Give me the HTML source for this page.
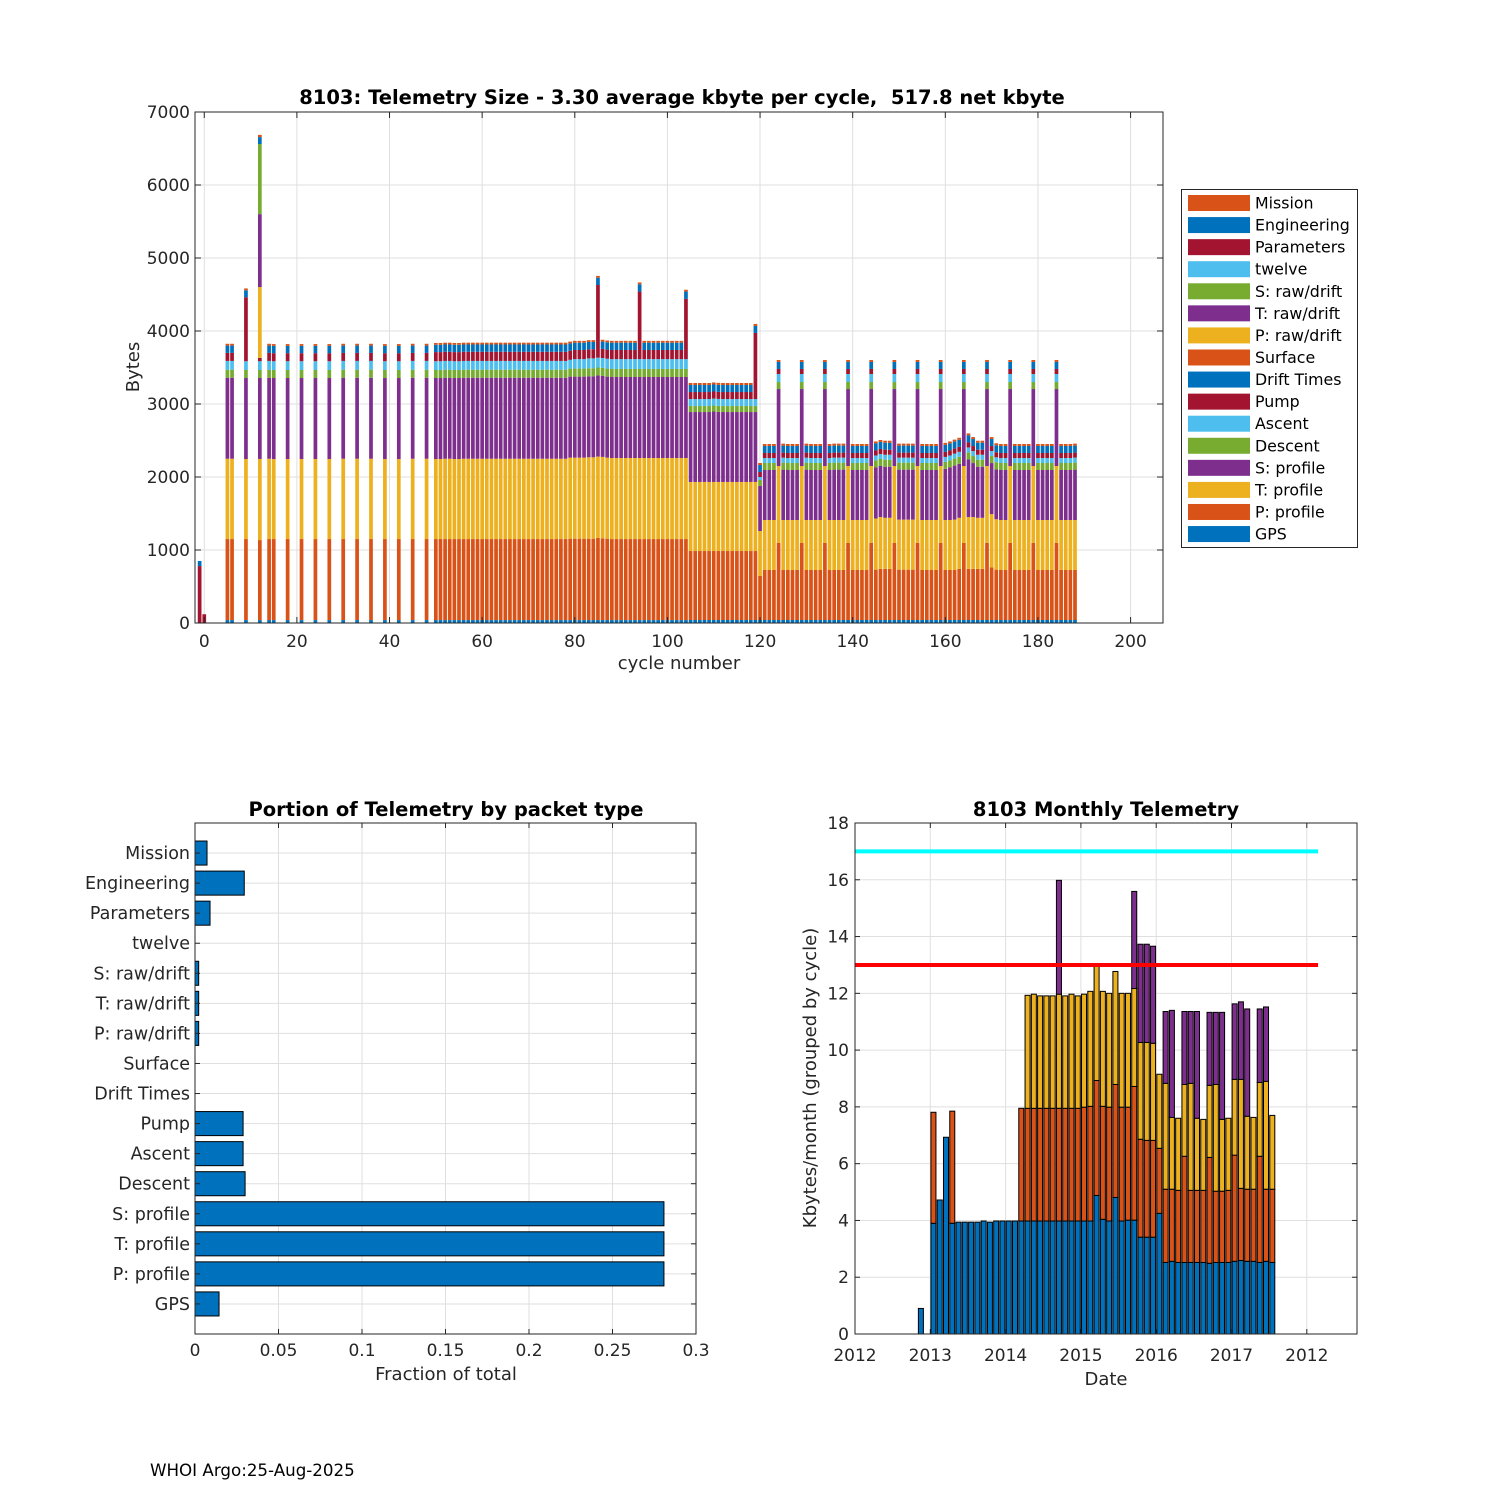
<!DOCTYPE html>
<html><head><meta charset="utf-8"><style>
html,body{margin:0;padding:0;background:#fff;}
svg{display:block;font-family:"DejaVu Sans","Liberation Sans",sans-serif;}
</style></head>
<body>
<svg id="fig" width="1500" height="1500" viewBox="0 0 1500 1500" xmlns="http://www.w3.org/2000/svg">
<rect x="0" y="0" width="1500" height="1500" fill="#fff"/>
<g id="top"></g>
<g id="bl"></g>
<g id="br"></g>
<text x="150" y="1476" font-size="16.7" fill="#000">WHOI Argo:25-Aug-2025</text>
</svg>
<script>
// ---------------- TOP CHART DATA ----------------
const cycles = [-1,0,5,6,9,12,14,15,18,21,24,27,30,33,36,39,42,45,48,
50,51,52,53,54,55,56,57,58,59,60,61,62,63,64,65,66,67,68,69,70,71,72,73,74,75,76,77,78,79,80,81,82,83,84,85,86,87,88,89,90,91,92,93,94,95,96,97,98,99,100,101,102,103,104,
105,106,107,108,109,110,111,112,113,114,115,116,117,118,119,
120,
121,122,123,124,125,126,127,128,129,130,131,132,133,134,135,136,137,138,139,140,141,142,143,144,145,146,147,148,149,150,151,152,153,154,155,156,157,158,159,160,161,162,163,164,165,166,167,168,169,170,171,172,173,174,175,176,177,178,179,180,181,182,183,184,185,186,187,188];
const gps = [0,0,
40,40,40,40,40,40,40,40,40,40,40,40,40,40,40,40,40,
40,40,40,40,40,40,40,40,40,40,40,40,40,40,40,40,40,40,40,40,40,40,40,40,40,40,40,40,40,40,40,40,40,40,40,40,40,40,40,40,40,40,40,40,40,40,40,40,40,40,40,40,40,40,40,
41,41,41,41,41,41,41,41,41,41,41,41,41,41,41,
41,
41,41,41,41,41,41,41,41,41,41,41,41,41,41,41,41,41,41,41,41,41,41,41,41,41,41,41,41,41,41,41,41,41,41,41,41,41,41,41,41,41,41,41,41,41,41,41,41,41,41,41,41,41,41,41,41,41,41,41,41,41,41,41,41,41,41,41,41];
const pProfile = [0,0,
1110,1110,1110,1096,1110,1110,1110,1110,1110,1110,1110,1110,1110,1110,1110,1110,1110,
1110,1110,1110,1110,1110,1110,1110,1110,1110,1110,1110,
1110,1110,1110,1110,1110,1110,1110,1110,1110,1110,1110,
1110,1110,1110,1110,1110,1110,1110,1115,1115,1115,1115,
1115,1115,1125,1120,1115,1110,1110,1110,1110,1110,1110,
1110,1110,1110,1110,1110,1110,1110,1110,1110,1110,1110,
945,945,945,945,945,945,945,945,945,945,945,945,945,945,945,
603,
685,685,685,
1055,685,685,685,685,
1055,685,685,685,685,
1055,685,685,685,685,
1055,685,685,685,685,
1055,690,700,700,700,
1055,690,690,690,690,
1055,685,685,685,685,
1055,685,685,685,700,
1055,700,700,700,700,
1055,720,690,685,685,
1055,685,685,685,685,
1055,685,685,685,685,
1055,685,685,685,685];
const tProfile = [0,0,
1100,1100,1096,1111,1100,1096,1096,1096,1096,1096,1100,1100,1100,1096,1096,1100,1100,
1096,1096,1100,1100,1096,1096,1100,1100,1100,1100,1100,
1100,1100,1100,1100,1100,1100,1100,1100,1100,1100,1100,
1100,1100,1100,1100,1100,1100,1100,1110,1110,1110,1110,
1115,1115,1115,1115,1110,1110,1110,1110,1110,1110,1110,
1110,1110,1110,1110,1110,1110,1110,1110,1110,1110,1110,
946,946,946,946,946,946,946,946,946,946,946,946,946,946,946,
616,
685,685,685,
1054,685,685,685,685,
1054,685,685,685,685,
1054,685,685,685,685,
1054,685,685,685,685,
1054,700,710,700,700,
1054,685,685,685,685,
1054,685,685,685,685,
1054,685,685,690,700,
1054,710,710,700,700,
1054,730,690,685,685,
1054,685,685,685,685,
1054,685,685,685,685,
1054,685,685,685,685];
const sProfile = [0,0,
1110,1110,1110,1109,1110,1110,1110,1110,1110,1110,1110,1110,1110,1110,1110,1110,1110,
1110,1110,1110,1110,1110,1110,1110,1110,1110,1110,1110,
1110,1110,1110,1110,1110,1110,1110,1110,1110,1110,1110,
1110,1110,1110,1110,1110,1110,1110,1110,1110,1110,1110,
1110,1110,1110,1110,1110,1110,1110,1110,1110,1110,1110,
1110,1110,1110,1110,1110,1110,1110,1110,1110,1110,1110,
958,958,958,958,958,965,960,958,958,958,958,958,958,958,958,
617,
685,685,685,
1055,690,685,685,685,
1055,690,685,685,685,
1055,685,690,690,690,
1055,685,685,685,685,
1055,700,700,700,700,
1055,685,685,685,685,
1055,685,685,685,685,
1055,700,720,740,740,
1055,790,740,700,700,
1055,700,685,685,685,
1055,685,685,685,685,
1055,685,685,685,685,
1055,685,685,685,690];
const descent = [0,0,
110,110,110,110,110,110,110,110,110,110,110,110,110,110,110,110,110,
110,110,110,110,110,110,110,110,110,110,110,110,110,110,110,110,110,110,110,110,110,110,110,110,110,110,110,110,110,110,110,110,110,110,110,110,110,110,110,110,110,110,110,110,110,110,110,110,110,110,110,110,110,110,110,
82,82,82,82,82,82,82,82,82,82,82,82,82,82,82,
82,
96,96,96,96,96,96,96,96,96,96,96,96,96,96,96,96,96,96,96,96,96,96,96,96,96,96,96,96,96,96,96,96,96,96,96,96,96,96,96,96,96,96,96,96,96,96,96,96,96,96,96,96,96,96,96,96,96,96,96,96,96,96,96,96,96,96,96,96];
const ascent = [0,0,
120,120,120,120,120,120,120,120,120,120,120,120,120,120,120,120,120,
120,120,120,120,120,120,120,120,120,120,120,
120,120,120,120,120,120,120,120,120,120,120,
120,120,120,120,120,120,120,120,130,130,130,
135,135,135,135,135,135,135,135,135,135,135,
135,135,135,135,135,135,135,135,135,135,135,
96,96,96,96,96,96,96,96,96,96,96,96,96,96,96,
41,
68,68,68,
110,68,68,68,68,
110,68,68,68,68,
110,68,68,68,68,
110,68,68,68,68,
110,68,68,68,68,
110,68,68,68,68,
110,68,68,68,68,
110,68,68,68,68,
110,68,68,68,68,
110,68,68,68,68,
110,68,68,68,68,
110,68,68,68,68,
110,68,68,68,68];
const pump = [0,0,
110,110,877,45,110,110,110,110,110,110,110,110,110,110,110,110,110,
125,125,125,125,125,125,125,125,125,125,125,125,125,125,125,125,125,125,125,125,125,125,125,125,125,125,125,125,125,125,125,125,125,125,125,125,125,125,125,125,125,125,125,125,125,125,125,125,125,125,125,125,125,125,125,
96,96,96,96,96,96,96,96,96,96,96,96,96,96,96,
68,
69,69,69,69,69,69,69,69,69,69,69,69,69,69,69,69,69,69,69,69,69,69,69,69,69,69,69,69,69,69,69,69,69,69,69,69,69,69,69,69,69,69,69,69,69,69,69,69,69,69,69,69,69,69,69,69,69,69,69,69,69,69,69,69,69,69,69,69];
const driftTimes = [];
const surface = [];
const pRaw = [0,0,0,0,0,970];
const tRaw = [0,0,0,0,0,1000];
const sRaw = [0,0,0,0,0,960];
const twelve = [];
const parameters = [780,120,
0,0,0,0,0,0,0,0,0,0,0,0,0,0,0,0,0,
0,0,0,0,0,0,0,0,0,0,0,
0,0,0,0,0,0,0,0,0,0,0,
0,0,0,0,0,0,0,0,0,0,0,
0,0,870,0,0,0,0,0,0,0,0,
800,0,0,0,0,0,0,0,0,0,700,
0,0,0,0,0,0,0,0,0,0,0,0,0,0,809];
const engineering = [70,0,
100,100,95,95,100,100,100,100,100,100,100,100,100,100,100,100,100,
100,100,100,100,100,100,100,100,100,100,100,100,100,100,100,100,100,100,100,100,100,100,100,100,100,100,100,100,100,100,100,100,100,100,100,100,100,100,100,100,100,100,100,100,100,100,100,100,100,100,100,100,100,100,100,
96,96,96,96,96,96,96,96,96,96,96,96,96,96,96,
96,
96,96,96,96,96,96,96,96,96,96,96,96,96,96,96,96,96,96,96,96,96,96,96,96,96,96,96,96,96,96,96,96,96,96,96,96,96,96,96,96,96,96,96,96,96,96,96,96,96,96,96,96,96,96,96,96,96,96,96,96,96,96,96,96,96,96,96,96];
const mission = [0,0,
25,25,25,30,25,25,25,25,25,25,25,25,25,25,25,25,25,
25,25,25,25,25,25,25,25,25,25,25,25,25,25,25,25,25,25,25,25,25,25,25,25,25,25,25,25,25,25,25,25,25,25,25,25,25,25,25,25,25,25,25,25,25,25,25,25,25,25,25,25,25,25,25,
28,28,28,28,28,28,28,28,28,28,28,28,28,28,28,
28,
27,27,27,27,27,27,27,27,27,27,27,27,27,27,27,27,27,27,27,27,27,27,27,27,27,27,27,27,27,27,27,27,27,27,27,27,27,27,27,27,27,27,27,27,27,27,27,27,27,27,27,27,27,27,27,27,27,27,27,27,27,27,27,27,27,27,27,27];
const topXTicks = [0,20,40,60,80,100,120,140,160,180,200];
const topYTicks = [0,1000,2000,3000,4000,5000,6000,7000];

// ---------------- BOTTOM LEFT DATA ----------------
const packetNames = ["GPS","P: profile","T: profile","S: profile","Descent","Ascent","Pump","Drift Times","Surface","P: raw/drift","T: raw/drift","S: raw/drift","twelve","Parameters","Engineering","Mission"];
const packetFractions = [0.0144,0.2808,0.2808,0.2808,0.0300,0.0288,0.0288,0,0,0.0022,0.0022,0.0022,0,0.0090,0.0295,0.0072];
const fracTicks = [0,0.05,0.1,0.15,0.2,0.25,0.3];
const fracTickLabels = ["0","0.05","0.1","0.15","0.2","0.25","0.3"];

// ---------------- BOTTOM RIGHT DATA ----------------
const months = [10,12,13,14,15,16,17,18,19,20,21,22,23,24,25,26,27,28,29,30,31,32,33,34,35,36,37,38,39,40,41,42,43,44,45,46,47,48,49,50,51,52,53,54,55,56,57,58,59,60,61,62,63,64,65,66];
const monBlue = [0.9,3.9,4.72,6.93,3.9,3.94,3.94,3.94,3.94,3.98,3.94,3.98,3.98,3.98,3.98,3.98,3.98,3.98,3.98,3.98,3.98,3.98,3.98,3.98,3.98,3.98,3.98,4.88,4.04,3.98,4.81,3.98,4.01,4.01,3.41,3.41,3.41,4.25,2.52,2.56,2.52,2.52,2.52,2.52,2.52,2.49,2.52,2.52,2.52,2.56,2.59,2.56,2.56,2.52,2.56,2.52];
const monOrange = [0,3.91,0,0,3.95,0,0,0,0,0,0,0,0,0,0,3.97,3.97,3.97,3.97,3.97,3.97,3.97,3.97,3.97,3.97,4.01,4.04,4.05,3.98,4.01,3.98,4.01,3.98,4.71,3.45,3.41,3.41,2.29,2.58,2.54,2.54,3.74,2.54,2.54,2.54,3.73,2.51,2.51,2.54,3.74,2.54,2.54,2.54,3.74,2.54,2.58];
const monYellow = [0,0,0,0,0,0,0,0,0,0,0,0,0,0,0,0,3.98,4.02,3.96,3.96,3.96,4.02,3.96,4.02,3.96,3.98,4.05,4.02,4.05,4.01,3.98,4.01,4.01,3.45,3.41,3.45,3.42,2.61,3.73,2.53,2.54,2.53,3.77,2.54,2.5,2.54,3.76,2.53,2.54,2.67,3.84,2.57,2.53,2.6,3.8,2.6];
const monPurple = [0,0,0,0,0,0,0,0,0,0,0,0,0,0,0,0,0,0,0,0,0,4.01,0,0,0,0,0,0,0,0,0,0,0,3.42,3.46,3.46,3.42,0,2.53,3.77,0,2.57,2.53,3.76,0,2.57,2.54,3.77,0,2.66,2.73,3.78,0,2.59,2.62,0];
const refLineValues = [17,13];
const refLineColors = ["#00FFFF","#FF0000"];
const refLineStart = 2012, refLineEnd = 2018.15;
const dateTicks = [2012,2013,2014,2015,2016,2017,2018];
const dateTickLabels = ["2012","2013","2014","2015","2016","2017","2012"];
const kbTicks = [0,2,4,6,8,10,12,14,16,18];

// ---------------- DRAWING ----------------
const NS="http://www.w3.org/2000/svg";
const AX="#262626", GRID="#dfdfdf";
function mk(parent, tag, attrs, text){
  const e=document.createElementNS(NS,tag);
  for(const k in attrs) e.setAttribute(k,attrs[k]);
  if(text!==undefined) e.textContent=text;
  parent.appendChild(e); return e;
}
const C={blue:"#0072BD",orange:"#D95319",yellow:"#EDB120",purple:"#7E2F8E",green:"#77AC30",lblue:"#4DBEEE",red:"#A2142F"};

// ===== TOP =====
(function(){
  const g=document.getElementById('top');
  const L=195,R=1163,T=112,B=623, xmin=-2, xmax=207, ymax=7000;
  const X=v=>L+(v-xmin)/(xmax-xmin)*(R-L);
  const Y=v=>B-v/ymax*(B-T);
  for(const t of topXTicks){
    const l=mk(g,'line',{x1:X(t),x2:X(t),y1:T,y2:B,stroke:GRID,'stroke-width':1});
    
    
  }
  for(const t of topYTicks){
    const l=mk(g,'line',{x1:L,x2:R,y1:Y(t),y2:Y(t),stroke:GRID,'stroke-width':1});
    
    
  }
  const series=[
    ['gps',gps,C.blue],['p-profile',pProfile,C.orange],['t-profile',tProfile,C.yellow],['s-profile',sProfile,C.purple],
    ['descent',descent,C.green],['ascent',ascent,C.lblue],['pump',pump,C.red],['drift-times',driftTimes,C.blue],
    ['surface',surface,C.orange],['p-raw-drift',pRaw,C.yellow],['t-raw-drift',tRaw,C.purple],['s-raw-drift',sRaw,C.green],
    ['twelve',twelve,C.lblue],['parameters',parameters,C.red],['engineering',engineering,C.blue],['mission',mission,C.orange]];
  const bars=mk(g,'g',{});
  
  
  cycles.forEach((c,i)=>{
    let base=0;
    for(const [nm,arr,col] of series){
      const v=arr[i]||0; if(v<=0) continue;
      const x0=X(c-0.4), x1=X(c+0.4);
      const r=mk(bars,'rect',{x:x0,y:Y(base+v),width:x1-x0,height:Y(base)-Y(base+v),fill:col});
      
      
      base+=v;
    }
  });
  mk(g,'rect',{x:L,y:T,width:R-L,height:B-T,fill:'none',stroke:AX,'stroke-width':1});
  for(const t of topXTicks){
    mk(g,'line',{x1:X(t),x2:X(t),y1:B,y2:B-6,stroke:AX});
    mk(g,'line',{x1:X(t),x2:X(t),y1:T,y2:T+6,stroke:AX});
    const tx=mk(g,'text',{x:X(t),y:B+24,'font-size':17,'text-anchor':'middle',fill:AX},String(t));
    
    
  }
  for(const t of topYTicks){
    mk(g,'line',{x1:L,x2:L+6,y1:Y(t),y2:Y(t),stroke:AX});
    mk(g,'line',{x1:R,x2:R-6,y1:Y(t),y2:Y(t),stroke:AX});
    const tx=mk(g,'text',{x:L-5,y:Y(t)+6,'font-size':17,'text-anchor':'end',fill:AX},String(t));
    
    
  }
  const tt=mk(g,'text',{x:682,y:104,'font-size':19.5,'font-weight':'bold','text-anchor':'middle',fill:'#000',style:'white-space:pre'},'8103: Telemetry Size - 3.30 average kbyte per cycle,  517.8 net kbyte');
  
  
  const xl=mk(g,'text',{x:679,y:669,'font-size':18,'text-anchor':'middle',fill:AX},'cycle number');
  
  
  const yl=mk(g,'text',{x:0,y:0,'font-size':18,'text-anchor':'middle',fill:AX,transform:'translate(139,367) rotate(-90)'},'Bytes');
  
  
  const lg=mk(g,'g',{});
  
  
  mk(lg,'rect',{x:1181.5,y:189.5,width:176,height:358,fill:'#fff',stroke:AX,'stroke-width':1});
  const rev=series.slice().reverse();
  const labels=["Mission","Engineering","Parameters","twelve","S: raw/drift","T: raw/drift","P: raw/drift","Surface","Drift Times","Pump","Ascent","Descent","S: profile","T: profile","P: profile","GPS"];
  rev.forEach((s,k)=>{
    const cy=203+k*22.07;
    const e=mk(lg,'g',{});
    
    
    mk(e,'rect',{x:1188,y:cy-8,width:62,height:16,fill:s[2]});
    mk(e,'text',{x:1255,y:cy+5.5,'font-size':15.8,fill:'#000'},labels[k]);
  });
})();

// ===== BOTTOM LEFT =====
(function(){
  const g=document.getElementById('bl');
  const L=195,R=696,T=823,B=1334;
  const X=v=>L+v/0.3*(R-L);
  const Y=k=>B-k*(B-T)/17;
  for(const t of fracTicks){
    const l=mk(g,'line',{x1:X(t),x2:X(t),y1:T,y2:B,stroke:GRID});
    
    
  }
  for(let k=1;k<=16;k++){
    const l=mk(g,'line',{x1:L,x2:R,y1:Y(k),y2:Y(k),stroke:GRID});
    
    
  }
  packetFractions.forEach((v,i)=>{
    const k=i+1;
    if(v>0){
      const r=mk(g,'rect',{x:X(0),y:Y(k+0.4),width:X(v)-X(0),height:Y(k-0.4)-Y(k+0.4),fill:C.blue,stroke:'#000','stroke-width':1});
      
      
    }
    mk(g,'line',{x1:L,x2:L+5,y1:Y(k),y2:Y(k),stroke:AX});
    mk(g,'line',{x1:R,x2:R-5,y1:Y(k),y2:Y(k),stroke:AX});
    const tx=mk(g,'text',{x:L-5,y:Y(k)+6,'font-size':17.5,'text-anchor':'end',fill:AX},packetNames[i]);
    
    
  });
  mk(g,'rect',{x:L,y:T,width:R-L,height:B-T,fill:'none',stroke:AX});
  fracTicks.forEach((t,i)=>{
    mk(g,'line',{x1:X(t),x2:X(t),y1:B,y2:B-5,stroke:AX});
    mk(g,'line',{x1:X(t),x2:X(t),y1:T,y2:T+5,stroke:AX});
    const tx=mk(g,'text',{x:X(t),y:B+22,'font-size':17,'text-anchor':'middle',fill:AX},fracTickLabels[i]);
    
    
  });
  const tt=mk(g,'text',{x:446,y:816,'font-size':19.5,'font-weight':'bold','text-anchor':'middle',fill:'#000'},'Portion of Telemetry by packet type');
  
  
  const xl=mk(g,'text',{x:446,y:1380,'font-size':18,'text-anchor':'middle',fill:AX},'Fraction of total');
  
  
})();

// ===== BOTTOM RIGHT =====
(function(){
  const g=document.getElementById('br');
  const L=855,R=1357,T=823,B=1334, x0=2012, x1=2018+8/12;
  const X=yr=>L+(yr-x0)/(x1-x0)*(R-L);
  const Y=v=>B-v/18*(B-T);
  for(const t of dateTicks){
    const l=mk(g,'line',{x1:X(t),x2:X(t),y1:T,y2:B,stroke:GRID});
    
    
  }
  for(const t of kbTicks){
    const l=mk(g,'line',{x1:L,x2:R,y1:Y(t),y2:Y(t),stroke:GRID});
    
    
  }
  const segs=[['gps',monBlue,C.blue],['profile',monOrange,C.orange],['raw',monYellow,C.yellow],['other',monPurple,C.purple]];
  months.forEach((m,i)=>{
    const yr=x0+(m+0.5)/12;
    let base=0;
    for(const [nm,arr,col] of segs){
      const v=arr[i]||0; if(v<=0) continue;
      const xa=X(yr-0.4/12), xb=X(yr+0.4/12);
      const r=mk(g,'rect',{x:xa,y:Y(base+v),width:xb-xa,height:Y(base)-Y(base+v),fill:col,stroke:'#000','stroke-width':1});
      
      
      base+=v;
    }
  });
  refLineValues.forEach((v,i)=>{
    const l=mk(g,'line',{x1:X(refLineStart),x2:X(refLineEnd),y1:Y(v),y2:Y(v),stroke:refLineColors[i],'stroke-width':4});
    
    
  });
  mk(g,'rect',{x:L,y:T,width:R-L,height:B-T,fill:'none',stroke:AX});
  dateTicks.forEach((t,i)=>{
    mk(g,'line',{x1:X(t),x2:X(t),y1:B,y2:B-5,stroke:AX});
    mk(g,'line',{x1:X(t),x2:X(t),y1:T,y2:T+5,stroke:AX});
    const tx=mk(g,'text',{x:X(t),y:B+27,'font-size':17,'text-anchor':'middle',fill:AX},dateTickLabels[i]);
    
    
  });
  for(const t of kbTicks){
    mk(g,'line',{x1:L,x2:L+5,y1:Y(t),y2:Y(t),stroke:AX});
    mk(g,'line',{x1:R,x2:R-5,y1:Y(t),y2:Y(t),stroke:AX});
    const tx=mk(g,'text',{x:L-6,y:Y(t)+6,'font-size':17,'text-anchor':'end',fill:AX},String(t));
    
    
  }
  const tt=mk(g,'text',{x:1106,y:816,'font-size':19.5,'font-weight':'bold','text-anchor':'middle',fill:'#000'},'8103 Monthly Telemetry');
  
  
  const xl=mk(g,'text',{x:1106,y:1385,'font-size':18,'text-anchor':'middle',fill:AX},'Date');
  
  
  const yl=mk(g,'text',{x:0,y:0,'font-size':18,'text-anchor':'middle',fill:AX,transform:'translate(816,1078) rotate(-90)'},'Kbytes/month (grouped by cycle)');
  
  
})();
</script>
</body></html>
